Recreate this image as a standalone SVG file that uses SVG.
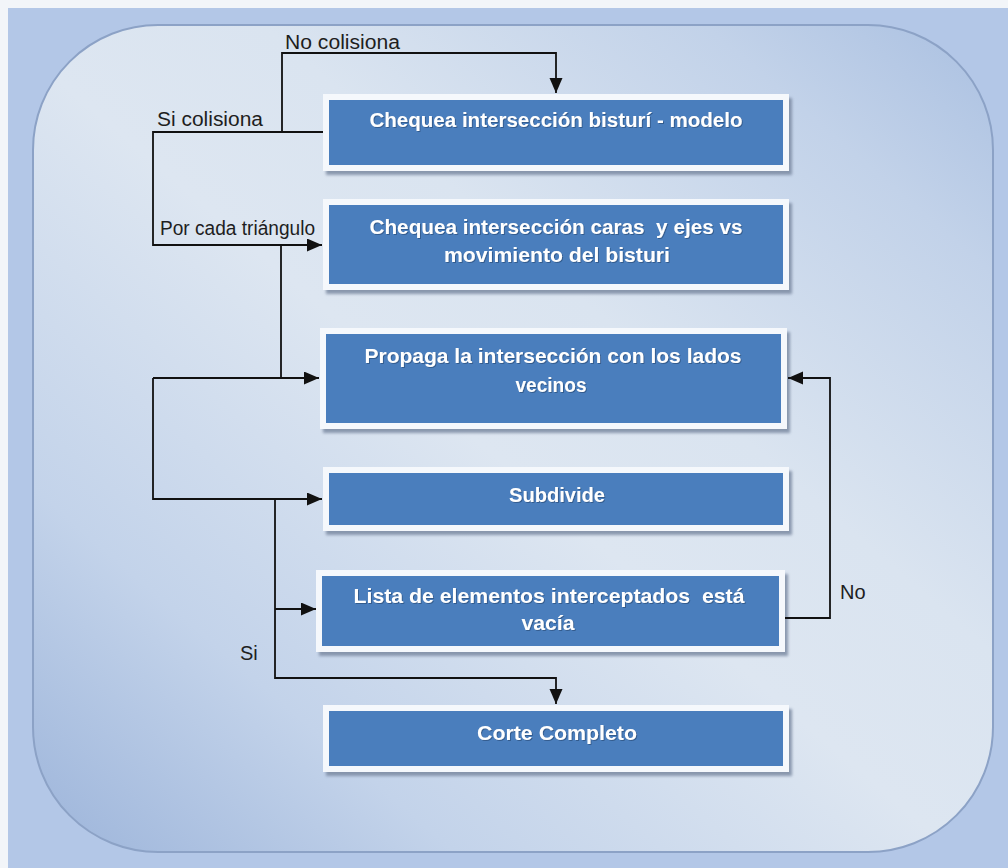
<svg xmlns="http://www.w3.org/2000/svg" width="1008" height="868" viewBox="0 0 1008 868">
<defs>
<linearGradient id="panelGrad" x1="0" y1="1" x2="1" y2="0">
<stop offset="0" stop-color="#9cb4da"/>
<stop offset="0.22" stop-color="#c3d3ea"/>
<stop offset="0.48" stop-color="#dde6f1"/>
<stop offset="0.62" stop-color="#dae4f0"/>
<stop offset="0.85" stop-color="#c2d2e9"/>
<stop offset="1" stop-color="#aac0e1"/>
</linearGradient>
<filter id="blur" x="-5%" y="-20%" width="110%" height="140%">
<feGaussianBlur stdDeviation="1.6"/>
</filter>
<filter id="tshadow" x="-5%" y="-30%" width="110%" height="160%">
<feDropShadow dx="1" dy="1" stdDeviation="0.6" flood-color="#1f3c66" flood-opacity="0.55"/>
</filter>
<marker id="arrow" markerUnits="userSpaceOnUse" markerWidth="16" markerHeight="14" refX="15" refY="6.5" orient="auto">
<path d="M0,0 L15,6.5 L0,13 z" fill="#111"/>
</marker>
<style>
.shadow{fill:#7b8aa2;filter:url(#blur);opacity:0.85}
.frame{fill:#f5f8fc}
.box{fill:#4a7ebd}
.bt{font-family:"Liberation Sans",Arial,sans-serif;font-weight:bold;font-size:20px;fill:#ffffff;text-anchor:middle;filter:url(#tshadow);white-space:pre}
.lbl{font-family:"Liberation Sans",Arial,sans-serif;font-size:20px;fill:#1e1e1e}
.con{fill:none;stroke:#111;stroke-width:1.8}
</style>
</defs>
<rect x="0" y="0" width="1008" height="868" fill="#f2f5f9"/>
<rect x="8" y="8" width="1000" height="860" fill="#b3c7e7"/>
<g id="panel">
<rect x="33" y="25" width="960" height="827" rx="125" ry="125" fill="url(#panelGrad)" stroke="#8ca2c6" stroke-width="2"/>
</g>

<g id="node1">
<rect class="shadow" x="326" y="98" width="466" height="77"/>
<rect class="frame" x="323" y="94" width="466" height="77"/>
<rect class="box" x="329" y="100" width="454" height="65"/>
<text class="bt" x="556" y="127" textLength="373" lengthAdjust="spacingAndGlyphs">Chequea intersección bisturí - modelo</text>
</g>
<g id="node2">
<rect class="shadow" x="326" y="203" width="466" height="91"/>
<rect class="frame" x="323" y="199" width="466" height="91"/>
<rect class="box" x="329" y="205" width="454" height="79"/>
<text class="bt" x="556" y="234" textLength="373" lengthAdjust="spacingAndGlyphs" xml:space="preserve">Chequea intersección caras  y ejes vs</text>
<text class="bt" x="557" y="262" textLength="226" lengthAdjust="spacingAndGlyphs">movimiento del bisturi</text>
</g>
<g id="node3">
<rect class="shadow" x="323" y="332" width="467" height="101"/>
<rect class="frame" x="320" y="328" width="467" height="101"/>
<rect class="box" x="326" y="334" width="455" height="89"/>
<text class="bt" x="553" y="363" textLength="377" lengthAdjust="spacingAndGlyphs">Propaga la intersección con los lados</text>
<text class="bt" x="551" y="392" textLength="71" lengthAdjust="spacingAndGlyphs">vecinos</text>
</g>
<g id="node4">
<rect class="shadow" x="326" y="471" width="466" height="64"/>
<rect class="frame" x="323" y="467" width="466" height="64"/>
<rect class="box" x="329" y="473" width="454" height="52"/>
<text class="bt" x="557" y="502" textLength="96" lengthAdjust="spacingAndGlyphs">Subdivide</text>
</g>
<g id="node5">
<rect class="shadow" x="319" y="574" width="469" height="82"/>
<rect class="frame" x="316" y="570" width="469" height="82"/>
<rect class="box" x="322" y="576" width="457" height="70"/>
<text class="bt" x="549" y="603" textLength="391" lengthAdjust="spacingAndGlyphs" xml:space="preserve">Lista de elementos interceptados  está</text>
<text class="bt" x="548" y="630" textLength="53" lengthAdjust="spacingAndGlyphs">vacía</text>
</g>
<g id="node6">
<rect class="shadow" x="326" y="709" width="466" height="67"/>
<rect class="frame" x="323" y="705" width="466" height="67"/>
<rect class="box" x="329" y="711" width="454" height="55"/>
<text class="bt" x="557" y="740" textLength="160" lengthAdjust="spacingAndGlyphs">Corte Completo</text>
</g>

<g id="connectors">
<path class="con" d="M323,132 L153,132 L153,245 L322,245" marker-end="url(#arrow)"/>
<path class="con" d="M282,132 L282,53 L556,53 L556,93" marker-end="url(#arrow)"/>
<path class="con" d="M281,245 L281,378"/>
<path class="con" d="M153,378 L319,378" marker-end="url(#arrow)"/>
<path class="con" d="M153,378 L153,499 L322,499" marker-end="url(#arrow)"/>
<path class="con" d="M275,499 L275,678 L556,678 L556,704" marker-end="url(#arrow)"/>
<path class="con" d="M275,609 L316,609" marker-end="url(#arrow)"/>
<path class="con" d="M785,618 L830,618 L830,378 L788,378" marker-end="url(#arrow)"/>
</g>

<g id="labels">
<text class="lbl" x="285" y="49" textLength="115" lengthAdjust="spacingAndGlyphs">No colisiona</text>
<text class="lbl" x="157" y="126" textLength="106" lengthAdjust="spacingAndGlyphs">Si colisiona</text>
<text class="lbl" x="160" y="235" textLength="155" lengthAdjust="spacingAndGlyphs">Por cada triángulo</text>
<text class="lbl" x="840" y="599">No</text>
<text class="lbl" x="240" y="660">Si</text>
</g>
</svg>
